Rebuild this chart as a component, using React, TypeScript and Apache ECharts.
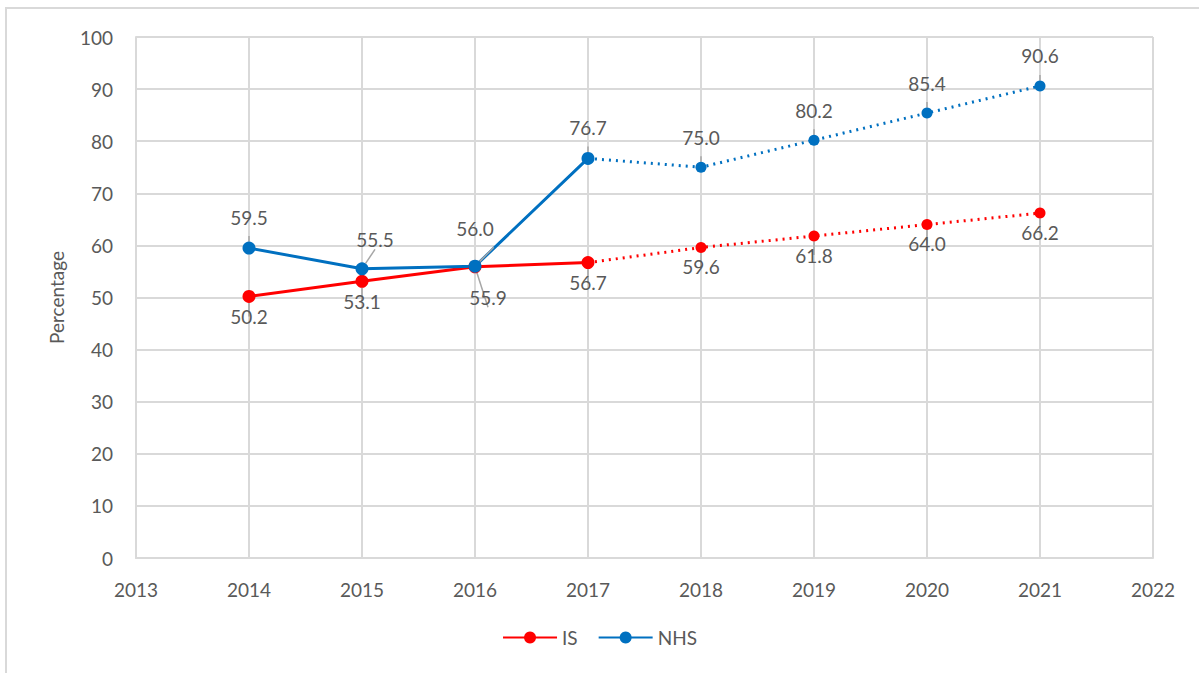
import React, { useEffect, useRef } from "react";
import * as echarts from "echarts";

const years = [2014, 2015, 2016, 2017, 2018, 2019, 2020, 2021];
const isValues = [50.2, 53.1, 55.9, 56.7, 59.6, 61.8, 64.0, 66.2];
const nhsValues = [59.5, 55.5, 56.0, 76.7, 75.0, 80.2, 85.4, 90.6];
const lastActualYear = 2017;
const seriesNames = ["IS", "NHS"];

const RED = "#ff0000";
const BLUE = "#0070c0";
const TXT = "#595959";
const FONT = "Lato, 'Open Sans', sans-serif";

// label offsets (dx, dy) for points that have a leader line
const isLeader: Record<number, [number, number]> = { 2016: [13, 31] };
const nhsLeader: Record<number, [number, number]> = { 2015: [13, -29], 2016: [0, -38] };

function buildSeries(name: string, values: number[], color: string, below: boolean, leader: Record<number, [number, number]>) {
  const splitIdx = years.indexOf(lastActualYear);
  const mkItem = (i: number, hideLabel: boolean, hideSymbol: boolean) => {
    const y = years[i];
    const lead = leader[y];
    const item: any = { value: [y, values[i]] };
    if (hideSymbol) item.symbol = "none";
    if (hideLabel) item.label = { show: false };
    else if (lead) {
      item.label = { show: true, position: "inside", offset: lead };
    }
    return item;
  };
  const solid = years.slice(0, splitIdx + 1).map((_, i) => mkItem(i, false, false));
  const dotted = years.slice(splitIdx).map((_, k) => mkItem(k + splitIdx, k === 0, k === 0));
  const labelBase = {
    show: true,
    position: below ? "bottom" : "top",
    distance: below ? 4 : 15,
    color: TXT,
    fontSize: 19,
    fontFamily: FONT,
    formatter: (p: any) => p.value[1].toFixed(1),
  };
  const common = {
    type: "line",
    name,
    symbol: "circle",
    color,
    lineStyle: { color, width: 3 },
    itemStyle: { color },
    label: labelBase,
    labelLine: { show: true, lineStyle: { color: "#a6a6a6", width: 1.5 }, length2: 0 },
    z: 3,
  };
  return [
    { ...common, data: solid, symbolSize: 13 },
    { ...common, data: dotted, symbolSize: 11, lineStyle: { color, width: 3, type: [2, 5] } },
  ];
}

export default function App() {
  const ref = useRef<HTMLDivElement>(null);
  useEffect(() => {
    const chart = echarts.init(ref.current!, null, { renderer: "svg" });
    chart.setOption({
      animation: false,
      backgroundColor: "#ffffff",
      textStyle: { fontFamily: FONT },
      grid: { left: 136, right: 46, top: 37, bottom: 115 },
      graphic: [
        {
          type: "rect",
          shape: { x: 6, y: 8, width: 1300, height: 800 },
          style: { fill: "none", stroke: "#d9d9d9", lineWidth: 2 },
          silent: true,
        },
      ],
      legend: {
        data: seriesNames,
        bottom: 21,
        left: "center",
        itemWidth: 54,
        itemHeight: 15,
        itemGap: 20,
        textStyle: { color: TXT, fontSize: 19, fontFamily: FONT },
      },
      xAxis: {
        type: "value",
        min: 2013,
        max: 2022,
        interval: 1,
        axisLine: { show: true, lineStyle: { color: "#d9d9d9", width: 2 } },
        axisTick: { show: false },
        splitLine: { show: true, lineStyle: { color: "#d9d9d9", width: 2 } },
        axisLabel: { color: TXT, fontSize: 19, margin: 22, fontFamily: FONT, formatter: (v: number) => String(v) },
      },
      yAxis: {
        type: "value",
        min: 0,
        max: 100,
        interval: 10,
        name: "Percentage",
        nameLocation: "middle",
        nameRotate: 90,
        nameGap: 70,
        nameTextStyle: { color: TXT, fontSize: 19, fontFamily: FONT },
        axisLine: { show: true, lineStyle: { color: "#d9d9d9", width: 2 } },
        axisTick: { show: false },
        splitLine: { show: true, lineStyle: { color: "#d9d9d9", width: 2 } },
        axisLabel: { color: TXT, fontSize: 19, margin: 23, fontFamily: FONT },
      },
      series: [
        ...buildSeries("IS", isValues, RED, true, isLeader),
        ...buildSeries("NHS", nhsValues, BLUE, false, nhsLeader),
      ],
    });
    return () => chart.dispose();
  }, []);
  return <div ref={ref} style={{ width: 1199, height: 673, position: "absolute", left: 0, top: 0 }} />;
}
